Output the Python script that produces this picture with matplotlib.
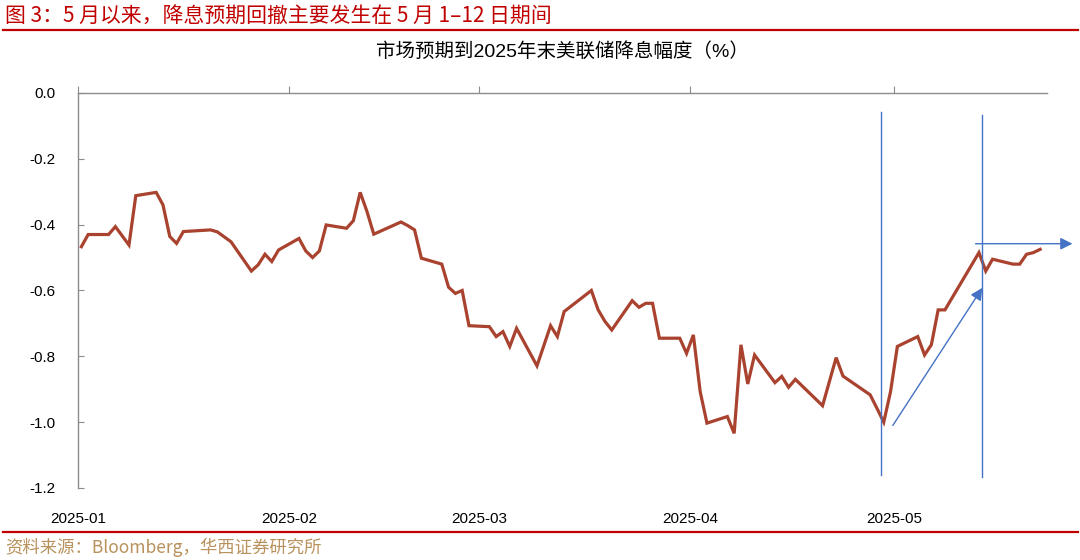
import matplotlib
matplotlib.use('Agg')
import matplotlib.pyplot as plt
import matplotlib.dates as mdates
import numpy as np
import pandas as pd

plt.rcParams['font.family'] = ['Liberation Sans', 'Noto Sans CJK SC', 'DejaVu Sans']

# expected cumulative Fed cuts by end-2025 (%)
dates = pd.to_datetime([
    '2025-01-02', '2025-01-03', '2025-01-06', '2025-01-07', '2025-01-09', '2025-01-10',
    '2025-01-13', '2025-01-14', '2025-01-15', '2025-01-16', '2025-01-17', '2025-01-21',
    '2025-01-22', '2025-01-24', '2025-01-27', '2025-01-28', '2025-01-29', '2025-01-30',
    '2025-01-31', '2025-02-03', '2025-02-04', '2025-02-05', '2025-02-06', '2025-02-07',
    '2025-02-10', '2025-02-11', '2025-02-12', '2025-02-13', '2025-02-14', '2025-02-18',
    '2025-02-19', '2025-02-20', '2025-02-21', '2025-02-24', '2025-02-25', '2025-02-26',
    '2025-02-27', '2025-02-28', '2025-03-03', '2025-03-04', '2025-03-05', '2025-03-06',
    '2025-03-07', '2025-03-10', '2025-03-12', '2025-03-13', '2025-03-14', '2025-03-18',
    '2025-03-19', '2025-03-20', '2025-03-21', '2025-03-24', '2025-03-25', '2025-03-26',
    '2025-03-27', '2025-03-28', '2025-03-31', '2025-04-01', '2025-04-02', '2025-04-03',
    '2025-04-04', '2025-04-07', '2025-04-08', '2025-04-09', '2025-04-10', '2025-04-11',
    '2025-04-14', '2025-04-15', '2025-04-16', '2025-04-17', '2025-04-21', '2025-04-23',
    '2025-04-24', '2025-04-28', '2025-04-29', '2025-04-30', '2025-05-01', '2025-05-02',
    '2025-05-05', '2025-05-06', '2025-05-07', '2025-05-08', '2025-05-09', '2025-05-14',
    '2025-05-15', '2025-05-16', '2025-05-19', '2025-05-20', '2025-05-21', '2025-05-22',
    '2025-05-23'])
cuts = [
    -0.467, -0.430, -0.430, -0.406, -0.462, -0.312,
    -0.302, -0.340, -0.436, -0.457, -0.421, -0.416,
    -0.422, -0.452, -0.541, -0.522, -0.490, -0.512,
    -0.477, -0.442, -0.480, -0.500, -0.480, -0.401,
    -0.411, -0.388, -0.302, -0.360, -0.429, -0.392,
    -0.403, -0.416, -0.502, -0.520, -0.590, -0.609,
    -0.600, -0.707, -0.710, -0.740, -0.725, -0.770,
    -0.715, -0.829, -0.707, -0.740, -0.664, -0.600,
    -0.659, -0.694, -0.720, -0.631, -0.651, -0.639,
    -0.639, -0.745, -0.745, -0.791, -0.735, -0.907,
    -1.003, -0.983, -1.034, -0.765, -0.884, -0.796,
    -0.880, -0.861, -0.894, -0.870, -0.950, -0.804,
    -0.860, -0.917, -0.958, -1.000, -0.907, -0.770,
    -0.740, -0.796, -0.765, -0.659, -0.659, -0.485,
    -0.541, -0.505, -0.520, -0.520, -0.490, -0.485,
    -0.475]

yticks = [0.0, -0.2, -0.4, -0.6, -0.8, -1.0, -1.2]
month_ticks = pd.to_datetime(['2025-01-01', '2025-02-01', '2025-03-01', '2025-04-01', '2025-05-01'])
month_labels = ['2025-01', '2025-02', '2025-03', '2025-04', '2025-05']

# annotation positions (date, value)
vline1 = ('2025-04-29 02:00', -0.058, -1.160)
vline2 = ('2025-05-14 00:00', -0.066, -1.166)
up_arrow = (('2025-04-30 20:00', -1.010), ('2025-05-14 00:00', -0.592))
right_arrow = (('2025-05-13 00:00', -0.458), ('2025-05-27 06:00', -0.458))

half = pd.Timedelta(hours=12)
blue = '#4472C4'

fig = plt.figure(figsize=(10.8, 5.6), dpi=100)
ax = fig.add_axes([0.0722, 0.1286, 0.8972, 0.7054])

ax.plot(dates - half, cuts, color='#A9432F', lw=2.3, solid_joinstyle='miter', zorder=3)

ax.set_ylim(-1.2, 0.0)
ax.set_yticks(yticks)
ax.set_yticklabels(['%.1f' % v for v in yticks])
ax.set_xlim(pd.Timestamp('2025-01-01'), pd.Timestamp('2025-05-23 12:00'))
ax.set_xticks(month_ticks)
ax.set_xticklabels(month_labels)

for s in ['right', 'bottom']:
    ax.spines[s].set_visible(False)
for s in ['left', 'top']:
    ax.spines[s].set_color('#8C8C8C')
    ax.spines[s].set_linewidth(1.0)

ax.tick_params(axis='x', top=True, bottom=False, labeltop=False, labelbottom=True,
               direction='out', length=5, color='#8C8C8C', labelsize=11, pad=12)
ax.tick_params(axis='y', direction='in', length=4, color='#8C8C8C', labelsize=11, pad=16)

# annotations
for d, y0, y1 in [vline1, vline2]:
    ax.plot([pd.Timestamp(d)] * 2, [y0, y1], color=blue, lw=1.0, clip_on=False, zorder=4)
for (d0, y0), (d1, y1) in [up_arrow, right_arrow]:
    ax.annotate('', xy=(pd.Timestamp(d1), y1), xytext=(pd.Timestamp(d0), y0),
                arrowprops=dict(arrowstyle='-|>', color=blue, lw=1.0,
                                mutation_scale=18, shrinkA=0, shrinkB=0),
                annotation_clip=False, zorder=4)

ax.set_title('市场预期到2025年末美联储降息幅度（%）', fontsize=14, pad=26)

fig.text(0.005, 0.972, '图 3：5 月以来，降息预期回撤主要发生在 5 月 1–12 日期间',
         color='#C00000', fontsize=15, va='center', ha='left',
         family=['Noto Sans CJK SC', 'DejaVu Sans'])
fig.add_artist(plt.Line2D([0.003, 0.998], [0.946, 0.946], color='#C00000', lw=1.6))
fig.add_artist(plt.Line2D([0.003, 0.998], [0.05, 0.05], color='#C00000', lw=1.6))
fig.text(0.005, 0.022, '资料来源：Bloomberg，华西证券研究所',
         color='#B8915C', fontsize=12.5, va='center', ha='left',
         family=['Noto Sans CJK SC', 'DejaVu Sans'])

fig.savefig('out.png', dpi=100)
